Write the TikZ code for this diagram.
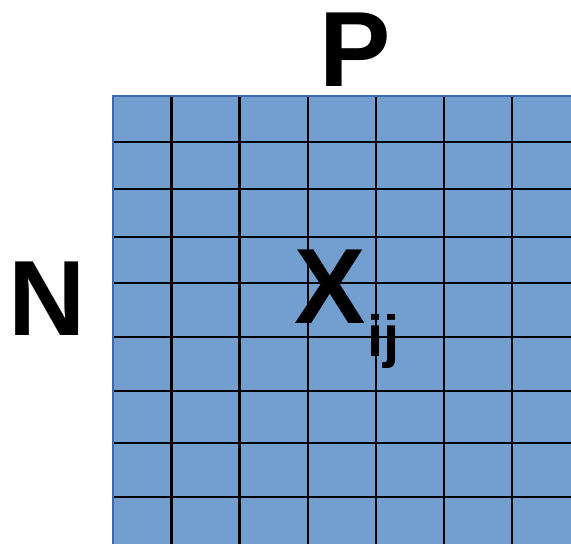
\documentclass[tikz,border=0pt]{standalone}
\usepackage{fontspec}
\setmainfont{Liberation Sans}
\usetikzlibrary{positioning}
\definecolor{cellblue}{RGB}{114,159,207}
\definecolor{edgeblue}{RGB}{62,106,170}

\begin{document}
\begin{tikzpicture}[
    x=1pt, y=-1pt,
    bigtext/.style={inner sep=0pt, anchor=base, font=\fontsize{107}{107}\selectfont\bfseries},
    subtext/.style={inner sep=0pt, anchor=base west, font=\fontsize{58}{58}\selectfont\bfseries},
    gridline/.style={line width=2.2pt, black}
]
    \useasboundingbox (0,0) rectangle (571,544);

    % Matrix cells
    \fill[cellblue] (113,96) rectangle (571,544);
    \foreach \x in {171.5,239.5,308,376,444,512}
        \draw[gridline] (\x,96) -- (\x,544);
    \foreach \y in {141.7,189,236.7,283.3,336.7,390.7,443.3,497.3}
        \draw[gridline] (113,\y) -- (571,\y);
    \draw[edgeblue, line width=2pt] (113,544) -- (113,96) -- (571,96);

    % Labels
    \node[bigtext] (cols) at (355.5,86) {P};
    \node[bigtext] (rows) at (47,335) {N};
    \node[bigtext] (xij) at (330,323) {X};
    \node[subtext] (ij) at (367,356) {ij};
\end{tikzpicture}
\end{document}
